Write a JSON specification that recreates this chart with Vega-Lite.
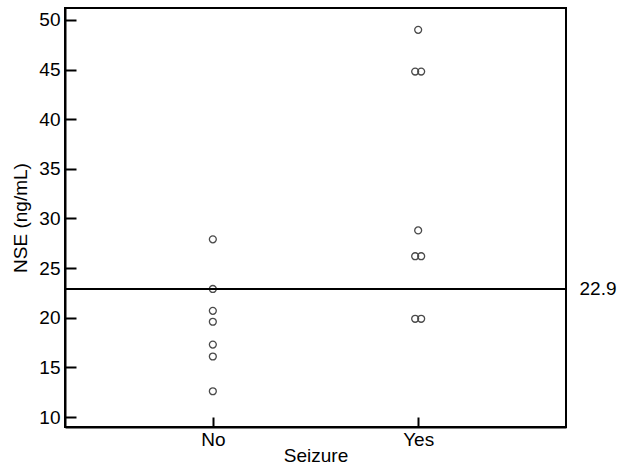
{
  "$schema": "https://vega.github.io/schema/vega-lite/v6.json",
  "autosize": "none",
  "width": 501,
  "height": 419,
  "padding": {"left": 65, "top": 8, "right": 52, "bottom": 43},
  "background": "white",
  "config": {
    "font": "Liberation Sans",
    "view": {"stroke": "black", "strokeWidth": 2},
    "axis": {
      "domainColor": "black", "domainWidth": 2,
      "tickColor": "black", "tickWidth": 2,
      "labelColor": "black", "titleColor": "black",
      "labelFont": "Liberation Sans", "titleFont": "Liberation Sans",
      "labelFontSize": 19, "titleFontSize": 19, "titleFontWeight": "normal",
      "grid": false
    }
  },
  "data": {
    "values": [
      {"seizure": "No", "nse": 27.9, "tie": "C"},
      {"seizure": "No", "nse": 22.9, "tie": "C"},
      {"seizure": "No", "nse": 20.7, "tie": "C"},
      {"seizure": "No", "nse": 19.6, "tie": "C"},
      {"seizure": "No", "nse": 17.3, "tie": "C"},
      {"seizure": "No", "nse": 16.1, "tie": "C"},
      {"seizure": "No", "nse": 12.6, "tie": "C"},
      {"seizure": "Yes", "nse": 49.0, "tie": "C"},
      {"seizure": "Yes", "nse": 44.8, "tie": "L"},
      {"seizure": "Yes", "nse": 44.8, "tie": "R"},
      {"seizure": "Yes", "nse": 28.8, "tie": "C"},
      {"seizure": "Yes", "nse": 26.2, "tie": "L"},
      {"seizure": "Yes", "nse": 26.2, "tie": "R"},
      {"seizure": "Yes", "nse": 19.9, "tie": "L"},
      {"seizure": "Yes", "nse": 19.9, "tie": "R"}
    ]
  },
  "layer": [
    {
      "mark": {"type": "point", "shape": "circle", "filled": false, "size": 48, "strokeWidth": 1.3, "color": "#4a4a4a", "opacity": 1},
      "encoding": {
        "x": {
          "field": "seizure", "type": "nominal",
          "scale": {"type": "point", "padding": 0.72},
          "axis": {"title": "Seizure", "labelAngle": 0, "tickSize": -10, "labelPadding": 13, "titlePadding": -3}
        },
        "xOffset": {
          "field": "tie", "type": "nominal",
          "scale": {"type": "point", "domain": ["L", "C", "R"], "range": [-4.5, 4.5]}
        },
        "y": {
          "field": "nse", "type": "quantitative",
          "scale": {"domain": [9, 51.2], "nice": false, "zero": false},
          "axis": {"title": "NSE (ng/mL)", "values": [10, 15, 20, 25, 30, 35, 40, 45, 50], "tickSize": -11, "labelPadding": 16, "titlePadding": 8}
        }
      }
    },
    {
      "data": {"values": [{"cutoff": 22.9}]},
      "mark": {"type": "rule", "color": "black", "strokeWidth": 2},
      "encoding": {
        "y": {
          "field": "cutoff", "type": "quantitative",
          "axis": {"orient": "right", "title": null, "values": [22.9], "format": ".1f", "ticks": false, "domain": false, "labelPadding": 13}
        }
      }
    }
  ],
  "resolve": {"axis": {"y": "independent"}}
}
